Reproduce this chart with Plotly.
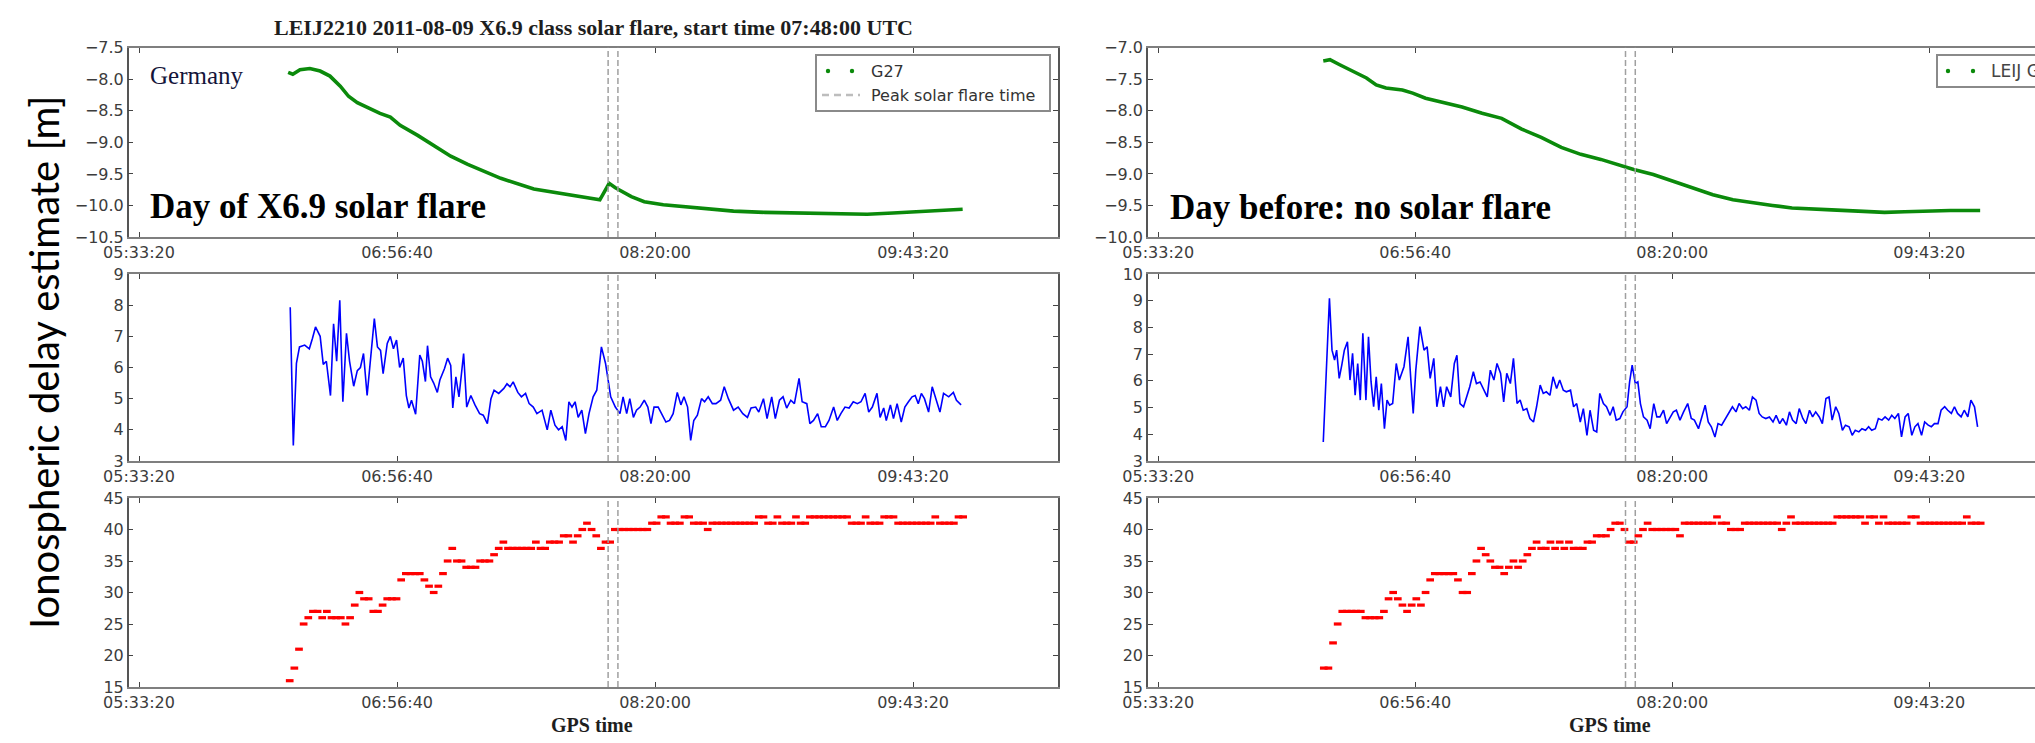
import plotly.graph_objects as go

# ---------------- data (GPS seconds of day) ----------------
TICK_SECONDS = [20000, 25000, 30000, 35000]
TICK_LABELS = ["05:33:20", "06:56:40", "08:20:00", "09:43:20"]
PEAK_TIMES = [29090, 29280]

# Day of flare (left column)
G27_T = [22890, 22980, 23120, 23310, 23510, 23700, 23900, 24060, 24230, 24420, 24670, 24870,
         25060, 25400, 25710, 26040, 26370, 26680, 27010, 27650, 28310, 28810, 28930, 29110,
         29230, 29540, 29790, 30160, 30900, 31520, 32130, 33000, 33860, 34110, 34610, 35220, 35960]
G27_V = [-7.89, -7.92, -7.85, -7.83, -7.87, -7.95, -8.11, -8.27, -8.37, -8.45, -8.54, -8.60,
         -8.73, -8.89, -9.05, -9.22, -9.35, -9.46, -9.57, -9.74, -9.83, -9.90, -9.91, -9.65,
         -9.72, -9.86, -9.94, -9.99, -10.05, -10.09, -10.11, -10.12, -10.13, -10.14, -10.12, -10.09, -10.06]

MID_L_T = [22930, 22990, 23050, 23110, 23210, 23300, 23360, 23420, 23510, 23570,
           23630, 23710, 23770, 23830, 23890, 23950, 24020, 24080, 24160, 24230,
           24290, 24350, 24420, 24500, 24560, 24620, 24680, 24730, 24810, 24870,
           24930, 24990, 25050, 25120, 25180, 25230, 25280, 25360, 25440, 25490,
           25550, 25590, 25650, 25710, 25780, 25830, 25920, 25980, 26040, 26080,
           26140, 26200, 26290, 26350, 26430, 26510, 26600, 26670, 26750, 26820,
           26880, 26970, 27070, 27130, 27190, 27250, 27340, 27410, 27490, 27560,
           27640, 27710, 27810, 27910, 27980, 28060, 28130, 28200, 28270, 28330,
           28390, 28450, 28510, 28580, 28650, 28720, 28800, 28870, 28960, 29040,
           29140, 29230, 29320, 29380, 29450, 29510, 29580, 29640, 29710, 29790,
           29860, 29920, 29980, 30060, 30130, 30210, 30280, 30350, 30430, 30500,
           30560, 30630, 30690, 30750, 30820, 30900, 30960, 31030, 31110, 31180,
           31270, 31340, 31420, 31520, 31610, 31700, 31790, 31860, 31950, 32010,
           32100, 32170, 32260, 32330, 32410, 32480, 32550, 32630, 32700, 32790,
           32850, 32940, 33000, 33070, 33150, 33220, 33300, 33370, 33460, 33530,
           33600, 33680, 33760, 33840, 33920, 33990, 34070, 34140, 34210, 34300,
           34360, 34430, 34480, 34560, 34620, 34690, 34770, 34840, 34910, 34980,
           35040, 35100, 35160, 35220, 35300, 35370, 35450, 35520, 35590, 35690,
           35780, 35840, 35930]
MID_L_V = [7.93, 3.5, 6.13, 6.66, 6.72, 6.6, 6.93, 7.3, 7.0, 6.1,
           6.2, 5.1, 7.4, 6.2, 8.16, 4.9, 7.1, 6.2, 5.4, 5.9,
           6.0, 6.45, 5.1, 6.55, 7.57, 6.66, 6.55, 5.8, 6.77, 7.0,
           6.6, 6.88, 6.0, 6.3, 5.1, 4.7, 4.95, 4.5, 6.4, 6.2,
           5.55, 6.7, 5.7, 5.5, 5.2, 5.6, 5.97, 6.3, 6.07, 4.7,
           5.7, 5.06, 6.45, 4.73, 5.1, 4.8, 4.52, 4.47, 4.2, 5.0,
           5.27, 5.17, 5.33, 5.48, 5.38, 5.54, 5.2, 5.06, 5.17, 4.84,
           4.73, 4.52, 4.63, 4.0, 4.63, 4.15, 4.0, 4.1, 3.66, 4.9,
           4.73, 4.9, 4.4, 4.63, 3.88, 4.52, 5.06, 5.27, 6.66, 6.13,
           5.06, 4.73, 4.52, 5.06, 4.52, 5.0, 4.4, 4.63, 4.73, 4.95,
           4.73, 4.2, 4.73, 4.73, 4.52, 4.25, 4.3, 4.52, 5.2, 4.8,
           5.06, 4.73, 3.66, 4.3, 4.47, 5.0, 4.9, 5.06, 4.84, 4.84,
           4.95, 5.38, 5.0, 4.63, 4.73, 4.52, 4.4, 4.7, 4.73, 4.57,
           5.0, 4.36, 5.06, 4.36, 4.95, 5.06, 4.7, 4.95, 4.84, 5.65,
           4.9, 4.84, 4.2, 4.3, 4.52, 4.1, 4.1, 4.3, 4.73, 4.3,
           4.52, 4.73, 4.7, 4.9, 4.84, 4.9, 5.17, 4.57, 4.73, 5.17,
           4.4, 4.7, 4.3, 4.8, 4.36, 4.84, 4.25, 4.73, 4.9, 5.06,
           5.1, 4.84, 5.17, 5.0, 4.57, 5.38, 4.95, 4.57, 5.17, 5.06,
           5.2, 4.95, 4.8]

BOT_L_T = [22920, 23010, 23100, 23190, 23280, 23370, 23460, 23550, 23640, 23730,
           23820, 23910, 24000, 24090, 24180, 24270, 24360, 24450, 24540, 24630,
           24720, 24810, 24900, 24990, 25080, 25170, 25260, 25350, 25440, 25530,
           25620, 25710, 25800, 25890, 25980, 26070, 26160, 26250, 26340, 26430,
           26520, 26610, 26700, 26790, 26880, 26970, 27060, 27150, 27240, 27330,
           27420, 27510, 27600, 27690, 27780, 27870, 27960, 28050, 28140, 28230,
           28320, 28410, 28500, 28590, 28680, 28770, 28860, 28950, 29040, 29130,
           29220, 29310, 29400, 29490, 29580, 29670, 29760, 29850, 29940, 30030,
           30120, 30210, 30300, 30390, 30480, 30570, 30660, 30750, 30840, 30930,
           31020, 31110, 31200, 31290, 31380, 31470, 31560, 31650, 31740, 31830,
           31920, 32010, 32100, 32190, 32280, 32370, 32460, 32550, 32640, 32730,
           32820, 32910, 33000, 33090, 33180, 33270, 33360, 33450, 33540, 33630,
           33720, 33810, 33900, 33990, 34080, 34170, 34260, 34350, 34440, 34530,
           34620, 34710, 34800, 34890, 34980, 35070, 35160, 35250, 35340, 35430,
           35520, 35610, 35700, 35790, 35880, 35970]
BOT_L_V = [16, 18, 21, 25, 26, 27, 27, 26, 27, 26,
           26, 26, 25, 26, 28, 30, 29, 29, 27, 27,
           28, 29, 29, 29, 32, 33, 33, 33, 33, 32,
           31, 30, 31, 33, 35, 37, 35, 35, 34, 34,
           34, 35, 35, 35, 36, 37, 38, 37, 37, 37,
           37, 37, 37, 38, 37, 37, 38, 38, 38, 39,
           39, 38, 39, 40, 41, 40, 39, 37, 38, 38,
           40, 40, 40, 40, 40, 40, 40, 40, 41, 41,
           42, 42, 41, 41, 41, 42, 42, 41, 41, 41,
           40, 41, 41, 41, 41, 41, 41, 41, 41, 41,
           41, 42, 42, 41, 41, 42, 41, 41, 41, 42,
           41, 41, 42, 42, 42, 42, 42, 42, 42, 42,
           42, 41, 41, 41, 42, 41, 41, 41, 42, 42,
           42, 41, 41, 41, 41, 41, 41, 41, 41, 42,
           41, 41, 41, 41, 42, 42]

# Day before (right column)
LEIJ_T = [23210, 23340, 23530, 23790, 24050, 24240, 24430, 24750, 24950, 25200, 25520, 25910,
          26300, 26680, 27070, 27450, 27840, 28220, 28610, 28990, 29250, 29630, 30020, 30400,
          30790, 31180, 31560, 31950, 32330, 32720, 33100, 33620, 34130, 34520, 34900, 35410, 35990]
LEIJ_V = [-7.21, -7.19, -7.27, -7.37, -7.48, -7.59, -7.64, -7.67, -7.72, -7.80, -7.86, -7.94,
          -8.04, -8.12, -8.29, -8.42, -8.58, -8.69, -8.77, -8.87, -8.93, -9.01, -9.12, -9.22,
          -9.33, -9.41, -9.46, -9.50, -9.54, -9.55, -9.57, -9.59, -9.61, -9.60, -9.59, -9.58, -9.58]

MID_R_T = [23210, 23280, 23330, 23380, 23430, 23470, 23520, 23570, 23620, 23680,
           23730, 23780, 23830, 23880, 23930, 23980, 24040, 24090, 24140, 24190,
           24240, 24290, 24340, 24400, 24450, 24500, 24560, 24630, 24690, 24780,
           24860, 24910, 24960, 25010, 25090, 25170, 25230, 25290, 25360, 25420,
           25490, 25550, 25610, 25690, 25760, 25810, 25870, 25940, 26000, 26060,
           26130, 26190, 26260, 26330, 26400, 26460, 26530, 26590, 26660, 26720,
           26780, 26850, 26910, 26980, 27040, 27100, 27170, 27230, 27300, 27360,
           27430, 27490, 27550, 27620, 27680, 27750, 27810, 27880, 27940, 28020,
           28080, 28140, 28210, 28270, 28340, 28400, 28470, 28530, 28590, 28660,
           28720, 28790, 28850, 28910, 28980, 29040, 29120, 29170, 29220, 29280,
           29330, 29380, 29440, 29510, 29570, 29640, 29700, 29760, 29830, 29890,
           29960, 30020, 30080, 30150, 30220, 30300, 30370, 30430, 30510, 30570,
           30640, 30700, 30760, 30830, 30890, 30960, 31020, 31100, 31170, 31240,
           31300, 31370, 31430, 31500, 31560, 31630, 31690, 31750, 31820, 31890,
           31960, 32020, 32090, 32150, 32220, 32280, 32340, 32410, 32470, 32540,
           32600, 32670, 32730, 32790, 32860, 32920, 32990, 33050, 33110, 33180,
           33240, 33310, 33370, 33440, 33500, 33560, 33630, 33690, 33760, 33820,
           33880, 33950, 34010, 34080, 34140, 34210, 34270, 34330, 34400, 34460,
           34530, 34590, 34660, 34720, 34780, 34850, 34910, 34980, 35040, 35100,
           35170, 35230, 35300, 35360, 35430, 35490, 35550, 35620, 35680, 35750,
           35810, 35880, 35940]
MID_R_V = [3.71, 7.15, 9.09, 7.15, 6.78, 7.15, 6.09, 6.59, 7.15, 7.46,
           6.03, 7.03, 5.46, 6.65, 5.28, 7.78, 5.28, 7.65, 5.96, 5.03,
           6.15, 4.9, 5.9, 4.21, 5.28, 5.09, 5.15, 6.65, 6.03, 6.53,
           7.65, 6.15, 4.78, 6.4, 8.03, 7.15, 7.28, 6.09, 6.84, 5.03,
           5.78, 5.03, 5.78, 5.4, 6.65, 6.96, 5.15, 5.03, 5.4, 5.78,
           6.34, 5.9, 5.96, 5.65, 5.4, 6.4, 6.03, 6.65, 6.28, 5.21,
           6.28, 5.9, 6.84, 5.15, 5.28, 4.9, 4.96, 4.59, 4.46, 5.03,
           5.84, 5.53, 5.59, 5.46, 6.15, 5.71, 6.03, 5.65, 5.59, 5.65,
           5.03, 5.15, 4.46, 4.96, 3.96, 4.9, 4.15, 4.09, 5.53, 5.15,
           5.03, 4.71, 5.03, 4.53, 4.59, 4.84, 5.03, 5.96, 6.59, 5.9,
           5.96, 5.15, 4.65, 4.53, 4.21, 5.15, 4.65, 4.65, 4.9, 4.4,
           4.65, 4.84, 4.9, 4.53, 4.84, 5.15, 4.59, 4.53, 4.21, 4.59,
           5.09, 4.46, 4.28, 3.9, 4.4, 4.34, 4.53, 4.78, 5.03, 4.84,
           5.15, 4.96, 5.03, 4.9, 5.4, 5.28, 4.78, 4.65, 4.59, 4.65,
           4.46, 4.71, 4.4, 4.59, 4.34, 4.84, 4.53, 4.4, 4.96, 4.59,
           4.4, 4.9, 4.65, 4.84, 4.65, 4.4, 5.34, 5.4, 4.53, 5.03,
           4.78, 4.15, 4.34, 4.28, 3.96, 4.15, 4.09, 4.21, 4.15, 4.28,
           4.15, 4.21, 4.59, 4.53, 4.65, 4.53, 4.71, 4.59, 4.78, 3.9,
           4.65, 4.78, 3.96, 4.28, 4.4, 3.96, 4.46, 4.34, 4.28, 4.4,
           4.4, 4.9, 5.03, 4.9, 4.78, 5.03, 4.78, 4.65, 4.9, 4.65,
           5.28, 5.03, 4.28]

BOT_R_T = [23220, 23310, 23400, 23490, 23580, 23670, 23760, 23850, 23940, 24030,
           24120, 24210, 24300, 24390, 24480, 24570, 24660, 24750, 24840, 24930,
           25020, 25110, 25200, 25290, 25380, 25470, 25560, 25650, 25740, 25830,
           25920, 26010, 26100, 26190, 26280, 26370, 26460, 26550, 26640, 26730,
           26820, 26910, 27000, 27090, 27180, 27270, 27360, 27450, 27540, 27630,
           27720, 27810, 27900, 27990, 28080, 28170, 28260, 28350, 28440, 28530,
           28620, 28710, 28800, 28890, 28980, 29070, 29160, 29250, 29340, 29430,
           29520, 29610, 29700, 29790, 29880, 29970, 30060, 30150, 30240, 30330,
           30420, 30510, 30600, 30690, 30780, 30870, 30960, 31050, 31140, 31230,
           31320, 31410, 31500, 31590, 31680, 31770, 31860, 31950, 32040, 32130,
           32220, 32310, 32400, 32490, 32580, 32670, 32760, 32850, 32940, 33030,
           33120, 33210, 33300, 33390, 33480, 33570, 33660, 33750, 33840, 33930,
           34020, 34110, 34200, 34290, 34380, 34470, 34560, 34650, 34740, 34830,
           34920, 35010, 35100, 35190, 35280, 35370, 35460, 35550, 35640, 35730,
           35820, 35910, 36000]
BOT_R_V = [18, 18, 22, 25, 27, 27, 27, 27, 27, 26,
           26, 26, 26, 27, 29, 30, 29, 28, 27, 28,
           29, 28, 30, 32, 33, 33, 33, 33, 33, 32,
           30, 30, 33, 35, 37, 36, 35, 34, 34, 33,
           34, 35, 34, 35, 36, 37, 38, 37, 37, 38,
           37, 38, 37, 38, 37, 37, 37, 38, 38, 39,
           39, 39, 40, 41, 41, 40, 38, 38, 39, 40,
           41, 40, 40, 40, 40, 40, 40, 39, 41, 41,
           41, 41, 41, 41, 41, 42, 41, 41, 40, 40,
           40, 41, 41, 41, 41, 41, 41, 41, 41, 40,
           41, 42, 41, 41, 41, 41, 41, 41, 41, 41,
           41, 42, 42, 42, 42, 42, 42, 41, 42, 42,
           41, 42, 41, 41, 41, 41, 41, 42, 42, 41,
           41, 41, 41, 41, 41, 41, 41, 41, 41, 42,
           41, 41, 41]

# ---------------- styling / layout ----------------
W, H = 2035, 743
GREEN, BLUE, RED = "#0b8a0b", "#0000ff", "#ff0000"
TICK_FONT = dict(family="DejaVu Sans", size=16, color="#3c3c3c")
SERIF = "Liberation Serif"


def px(x):
    return x / W


def py(y):
    return 1 - y / H


COLS = {"L": [px(128.7), px(1057.6)], "R": [px(1148), 1.0]}
XRANGE = {"L": [19800, 37800], "R": [19800, 37057]}
ROWS = [[py(237), py(47.7)], [py(461), py(274)], [py(687), py(498)]]

panels = [
    # (axis index, column, row, y range, dtick, tickformat)
    (1, "L", 0, [-10.5, -7.5], 0.5, ".1f"),
    (2, "R", 0, [-10.0, -7.0], 0.5, ".1f"),
    (3, "L", 1, [3, 9], 1, ""),
    (4, "R", 1, [3, 10], 1, ""),
    (5, "L", 2, [15, 45], 5, ""),
    (6, "R", 2, [15, 45], 5, ""),
]

fig = go.Figure()
series = {
    1: (G27_T, G27_V, "lines", GREEN, "G27"),
    2: (LEIJ_T, LEIJ_V, "lines", GREEN, "LEIJ G27"),
    3: (MID_L_T, MID_L_V, "lines", BLUE, "day of flare"),
    4: (MID_R_T, MID_R_V, "lines", BLUE, "day before"),
    5: (BOT_L_T, BOT_L_V, "markers", RED, "day of flare"),
    6: (BOT_R_T, BOT_R_V, "markers", RED, "day before"),
}
for i, (t, v, mode, color, name) in series.items():
    sfx = "" if i == 1 else str(i)
    kw = dict(x=t, y=v, mode=mode, name=name, xaxis="x" + sfx, yaxis="y" + sfx,
              showlegend=False, hoverinfo="x+y")
    if mode == "lines":
        kw["line"] = dict(color=color, width=3.6 if color == GREEN else 1.6)
    else:
        kw["marker"] = dict(symbol="line-ew", size=5.5, color=color,
                            line=dict(color=color, width=3.2))
    fig.add_trace(go.Scatter(**kw))

layout = dict(width=W, height=H, margin=dict(l=0, r=0, t=0, b=0, autoexpand=False),
              paper_bgcolor="white", plot_bgcolor="white", showlegend=False)
shapes, annotations = [], []
for i, col, row, yr, dt, fmt in panels:
    sfx = "" if i == 1 else str(i)
    layout["xaxis" + sfx] = dict(
        domain=COLS[col], range=XRANGE[col], anchor="y" + sfx,
        tickmode="array", tickvals=TICK_SECONDS, ticktext=TICK_LABELS,
        ticks="inside", ticklen=5, tickcolor="#444", showline=True, linewidth=2,
        linecolor="#7f7f7f", mirror="ticks", showgrid=False, zeroline=False,
        tickfont=TICK_FONT)
    layout["yaxis" + sfx] = dict(
        domain=ROWS[row], range=yr, anchor="x" + sfx, dtick=dt, tick0=yr[0],
        tickformat=fmt, ticks="inside", ticklen=5, tickcolor="#444", showline=True,
        linewidth=1.5, linecolor="#555555", mirror="ticks" if col == "L" else False,
        showgrid=False, zeroline=False, tickfont=TICK_FONT)
    for pt in PEAK_TIMES:
        shapes.append(dict(type="line", xref="x" + sfx, yref="y" + sfx + " domain",
                           x0=pt, x1=pt, y0=0, y1=1,
                           line=dict(color="#a0a0a0", width=1.5, dash="6px,3px")))

# legends (matplotlib style, drawn in paper coordinates)
shapes.append(dict(type="rect", xref="paper", yref="paper", x0=px(816), x1=px(1050),
                   y0=py(111), y1=py(55), line=dict(color="#8a8a8a", width=2),
                   fillcolor="white"))
shapes.append(dict(type="rect", xref="paper", yref="paper", x0=px(1937), x1=px(2120),
                   y0=py(87), y1=py(55), line=dict(color="#8a8a8a", width=2),
                   fillcolor="white"))
for cx, cy in [(828, 71), (852, 71), (1948, 71), (1973, 71)]:
    shapes.append(dict(type="circle", xref="paper", yref="paper", x0=px(cx - 2.2),
                       x1=px(cx + 2.2), y0=py(cy + 2.2), y1=py(cy - 2.2),
                       fillcolor=GREEN, line=dict(width=0)))
shapes.append(dict(type="line", xref="paper", yref="paper", x0=px(822), x1=px(860),
                   y0=py(95), y1=py(95), line=dict(color="#bdbdbd", width=2.5, dash="7px,5px")))
layout["shapes"] = shapes

LEG_FONT = dict(family="DejaVu Sans", size=16, color="#333333")
annotations += [
    dict(text="G27", x=px(869), y=py(71), xanchor="left", yanchor="middle", font=LEG_FONT),
    dict(text="Peak solar flare time", x=px(869), y=py(95), xanchor="left", yanchor="middle",
         font=LEG_FONT),
    dict(text="LEIJ G27", x=px(1989), y=py(71), xanchor="left", yanchor="middle",
         font=dict(family="DejaVu Sans", size=17, color="#444444")),
    dict(text="LEIJ2210 2011-08-09 X6.9 class solar flare, start time 07:48:00 UTC",
         x=px(593), y=py(28), xanchor="center", yanchor="middle",
         font=dict(family=SERIF, size=22, color="#1e1e1e", weight="bold")),
    dict(text="Germany", x=px(148), y=py(75), xanchor="left", yanchor="middle",
         font=dict(family=SERIF, size=25, color="#14143a")),
    dict(text="Day of X6.9 solar flare", x=px(148), y=py(206), xanchor="left",
         yanchor="middle", font=dict(family=SERIF, size=35, color="black", weight="bold")),
    dict(text="Day before: no solar flare", x=px(1168), y=py(207), xanchor="left",
         yanchor="middle", font=dict(family=SERIF, size=35, color="black", weight="bold")),
    dict(text="GPS time", x=px(592), y=py(725), xanchor="center", yanchor="middle",
         font=dict(family=SERIF, size=20, color="#1e1e1e", weight="bold")),
    dict(text="GPS time", x=px(1610), y=py(725), xanchor="center", yanchor="middle",
         font=dict(family=SERIF, size=20, color="#1e1e1e", weight="bold")),
    dict(text="Ionospheric delay estimate [m]", x=px(44), y=py(362), textangle=-90,
         xanchor="center", yanchor="middle",
         font=dict(family="Lato", size=40, color="black")),
]
for a in annotations:
    a.setdefault("xref", "paper")
    a.setdefault("yref", "paper")
    a["showarrow"] = False
layout["annotations"] = annotations

fig.update_layout(**layout)
fig.write_html("out.html", config={"displayModeBar": False},
               post_script="document.body.style.margin='0px';document.body.style.overflow='hidden';")
